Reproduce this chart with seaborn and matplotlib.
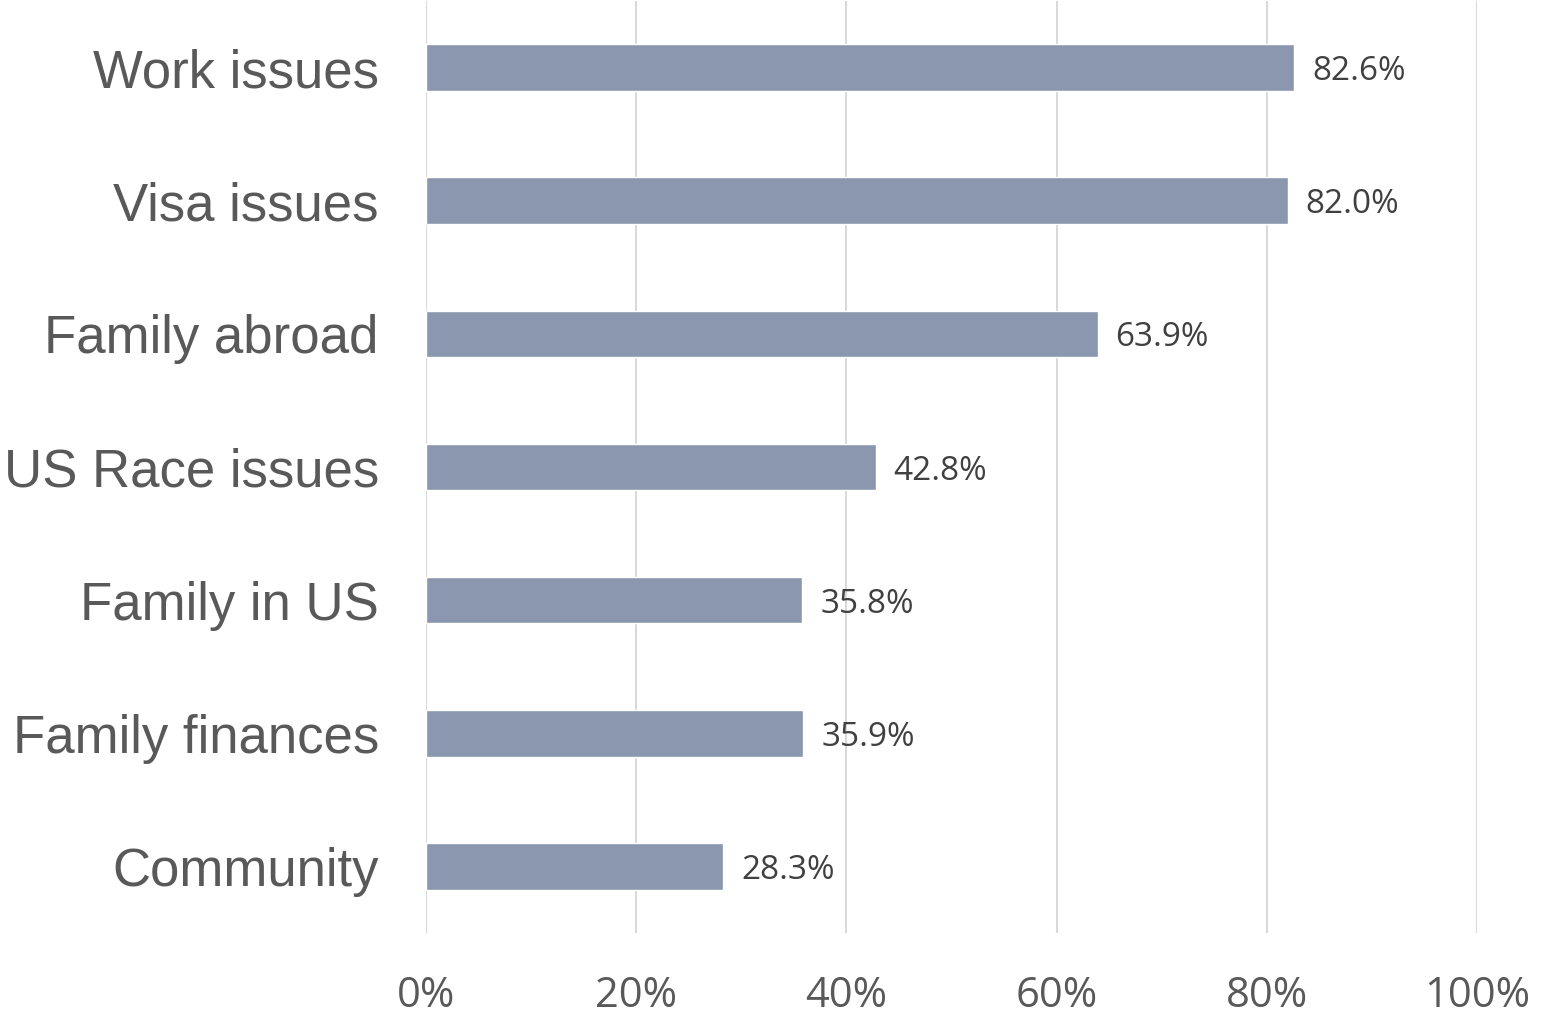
import matplotlib
matplotlib.use("Agg")
import matplotlib.pyplot as plt
import seaborn as sns
import pandas as pd

# data
categories = ["Work issues", "Visa issues", "Family abroad", "US Race issues",
              "Family in US", "Family finances", "Community"]
values = [82.6, 82.0, 63.9, 42.8, 35.8, 35.9, 28.3]
xticks = [0, 20, 40, 60, 80, 100]
xtick_labels = ["0%", "20%", "40%", "60%", "80%", "100%"]

df = pd.DataFrame({"category": categories, "value": values})

sns.set_style("white")

fig = plt.figure(figsize=(15.42, 10.19), dpi=100)
ax = fig.add_axes([426 / 1542, 1 - 933 / 1019, (1477 - 426) / 1542, 932 / 1019])

sns.barplot(data=df, x="value", y="category", color="#8A97AE", width=0.35,
            saturation=1, ax=ax, zorder=3)

# value labels
for i, v in enumerate(values):
    ax.text(v + 1.7, i, f"{v:.1f}%", va="center_baseline", ha="left",
            fontsize=24, color="#404040", family="Open Sans")

ax.set_xlim(0, 100)
ax.set_xticks(xticks)
ax.set_xticklabels(xtick_labels, fontsize=30, color="#595959", family="Open Sans")
ax.grid(axis="x", color="#D9D9D9", linewidth=1.5, zorder=0)
ax.set_ylim(6.5, -0.5)

for lbl in ax.get_yticklabels():
    lbl.set_fontsize(38)
    lbl.set_color("#595959")
    lbl.set_family("Liberation Sans")

ax.tick_params(axis="x", length=0, pad=30)
ax.tick_params(axis="y", length=0, pad=34)
ax.set_xlabel("")
ax.set_ylabel("")
for s in ax.spines.values():
    s.set_visible(False)

fig.savefig("out.png", dpi=100)
